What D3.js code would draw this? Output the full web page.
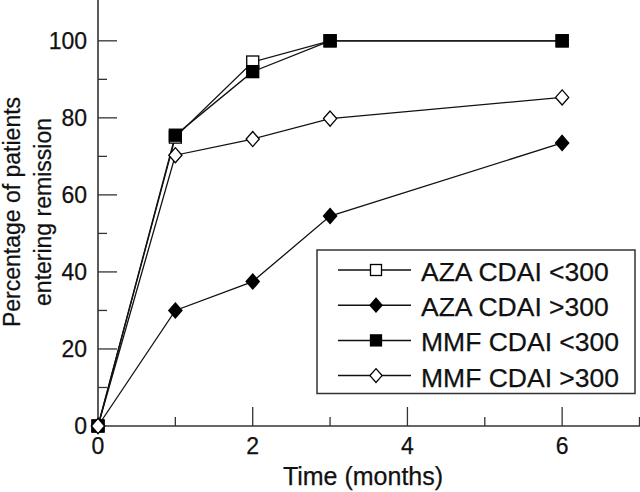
<!DOCTYPE html>
<html>
<head>
<meta charset="utf-8">
<script src="https://cdn.jsdelivr.net/npm/d3@7"></script>
<style>
  html, body { margin: 0; padding: 0; background: #fff; }
  svg { display: block; }
  text { font-family: "Liberation Sans", Arial, Helvetica, sans-serif; fill: #111; stroke: #111; stroke-width: 0.25px; }
</style>
</head>
<body>
<svg id="chart" width="640" height="492"></svg>
<script>
// ---- Data ----
const months = [0, 1, 2, 3, 6];
const azaLow  = [0, 75, 94.5, 100, 100];   // AZA CDAI <300
const azaHigh = [0, 30, 37.5, 54.5, 73.5]; // AZA CDAI >300
const mmfLow  = [0, 75.5, 92, 100, 100];   // MMF CDAI <300
const mmfHigh = [0, 70.3, 74.5, 79.8, 85.3]; // MMF CDAI >300
const seriesNames = ["AZA CDAI <300", "AZA CDAI >300", "MMF CDAI <300", "MMF CDAI >300"];
const xTickLabels = [0, 2, 4, 6];
const yTickLabels = [0, 20, 40, 60, 80, 100];

const series = [
  { name: seriesNames[0], values: azaLow,  shape: "square",  fill: "#fff" },
  { name: seriesNames[1], values: azaHigh, shape: "diamond", fill: "#000" },
  { name: seriesNames[2], values: mmfLow,  shape: "square",  fill: "#000" },
  { name: seriesNames[3], values: mmfHigh, shape: "diamond", fill: "#fff" }
];

const svg = d3.select("#chart");
const x = d3.scaleLinear().domain([0, 7]).range([98, 639.5]);
const y = d3.scaleLinear().domain([0, 110]).range([426, 2.3]);

// ---- Axes ----
const axisColor = "#333";
const g = svg.append("g");

g.append("line").attr("x1", x(0)).attr("x2", x(0)).attr("y1", 0).attr("y2", y(0))
  .attr("stroke", axisColor).attr("stroke-width", 1.6);
g.append("line").attr("x1", x(0)).attr("x2", 640).attr("y1", y(0)).attr("y2", y(0))
  .attr("stroke", axisColor).attr("stroke-width", 1.6);

d3.range(10, 101, 10).forEach(v => {
  const major = v % 20 === 0;
  g.append("line").attr("x1", x(0)).attr("x2", x(0) + (major ? 19 : 9))
    .attr("y1", y(v)).attr("y2", y(v)).attr("stroke", axisColor).attr("stroke-width", 1.3);
});
d3.range(1, 8, 1).forEach(v => {
  const major = v % 2 === 0;
  g.append("line").attr("x1", x(v)).attr("x2", x(v))
    .attr("y1", y(0)).attr("y2", y(0) - (major ? 19 : 9)).attr("stroke", axisColor).attr("stroke-width", 1.3);
});

g.selectAll(".ylab").data(yTickLabels).enter().append("text")
  .attr("x", 87).attr("y", d => y(d) + 8)
  .attr("text-anchor", "end").attr("font-size", 23).text(d => d);
g.selectAll(".xlab").data(xTickLabels).enter().append("text")
  .attr("x", d => x(d)).attr("y", 453.5)
  .attr("text-anchor", "middle").attr("font-size", 23).text(d => d);

svg.append("text").attr("x", 363).attr("y", 484.5).attr("text-anchor", "middle")
  .attr("font-size", 25).text("Time (months)");
svg.append("text").attr("transform", "translate(19.5,212) rotate(-90)").attr("text-anchor", "middle")
  .attr("font-size", 23).text("Percentage of patients");
svg.append("text").attr("transform", "translate(51,212) rotate(-90)").attr("text-anchor", "middle")
  .attr("font-size", 23).text("entering remission");

// ---- Marker helper ----
function marker(sel, shape, fill, size) {
  if (shape === "square") {
    sel.append("rect").attr("x", -size / 2).attr("y", -size / 2)
      .attr("width", size).attr("height", size)
      .attr("fill", fill).attr("stroke", "#000").attr("stroke-width", 1.3);
  } else {
    const w = size * 0.55, h = size * 0.63;
    sel.append("path").attr("d", `M0,${-h}L${w},0L0,${h}L${-w},0Z`)
      .attr("fill", fill).attr("stroke", "#000").attr("stroke-width", 1.3);
  }
}

// ---- Lines and markers ----
const line = d3.line().x((d, i) => x(months[i])).y(d => y(d));
series.forEach(s => {
  svg.append("path").datum(s.values).attr("d", line)
    .attr("fill", "none").attr("stroke", "#111").attr("stroke-width", 1.3);
});
series.forEach(s => {
  s.values.forEach((v, i) => {
    const mg = svg.append("g").attr("transform", `translate(${x(months[i])},${y(v)})`);
    marker(mg, s.shape, s.fill, 12);
  });
});

// ---- Legend ----
const leg = svg.append("g");
leg.append("rect").attr("x", 317).attr("y", 250).attr("width", 318).attr("height", 143.5)
  .attr("fill", "#fff").attr("stroke", "#333").attr("stroke-width", 1.5);
series.forEach((s, i) => {
  const cy = 270 + i * 35.2;
  leg.append("line").attr("x1", 338).attr("x2", 411).attr("y1", cy).attr("y2", cy)
    .attr("stroke", "#111").attr("stroke-width", 1.5);
  const mg = leg.append("g").attr("transform", `translate(376,${cy})`);
  marker(mg, s.shape, s.fill, 11);
  leg.append("text").attr("x", 421).attr("y", cy + 11).attr("font-size", 26.5).text(s.name);
});
</script>
</body>
</html>
